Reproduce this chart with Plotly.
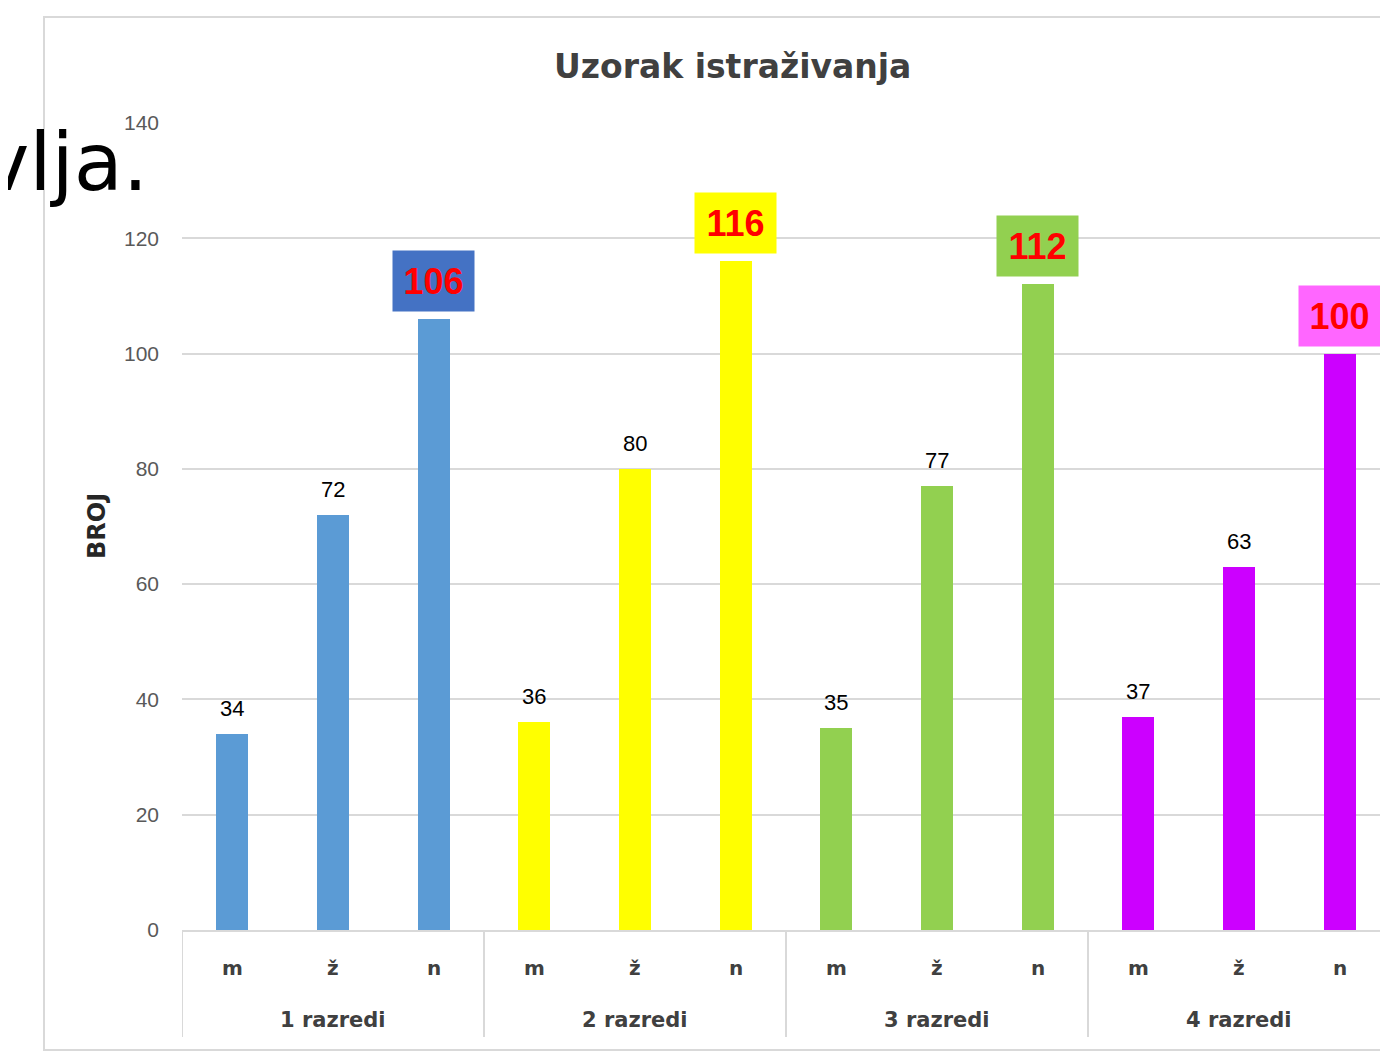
import plotly.graph_objects as go

groups = ["1 razredi", "2 razredi", "3 razredi", "4 razredi"]
subcats = ["m", "ž", "n"]
values = [
    [34, 72, 106],
    [36, 80, 116],
    [35, 77, 112],
    [37, 63, 100],
]
bar_colors = ["#5B9BD5", "#FFFF00", "#92D050", "#CC00FF"]
highlight_bg = ["#4472C4", "#FFFF00", "#92D050", "#FF66FF"]
y_ticks = [0, 20, 40, 60, 80, 100, 120, 140]
title_text = "Uzorak istraživanja"
y_title = "BROJ"

# page offset of the plot div (default body margin) is compensated here
OFF = 8
W, H = 1388 - OFF, 1052 - OFF
L, R, T, B = 182 - OFF, 0, 123 - OFF, 122
pw, ph = W - L - R, H - T - B

def px_to_paper_x(px):
    return (px - OFF - L) / pw

def px_to_paper_y(py):
    return (H - B - (py - OFF)) / ph

fig = go.Figure()
annotations = []
shapes = []

for gi, g in enumerate(groups):
    xs = [gi * 3 + k for k in range(3)]
    fig.add_trace(go.Bar(
        x=xs, y=values[gi], width=0.32,
        marker=dict(color=bar_colors[gi], line=dict(width=0)),
        name=g, showlegend=False, hoverinfo="skip",
    ))
    for k, (x, v) in enumerate(zip(xs, values[gi])):
        if k < 2:
            annotations.append(dict(
                x=x, y=v, xref="x", yref="y", text=str(v), showarrow=False,
                yanchor="bottom", yshift=11,
                font=dict(family="Liberation Sans", size=22, color="#000000"),
            ))
        else:
            annotations.append(dict(
                x=x, y=v, xref="x", yref="y", text="<b>%d</b>" % v, showarrow=False,
                yanchor="bottom", yshift=7, bgcolor=highlight_bg[gi],
                width=81, height=60, borderpad=0,
                font=dict(family="Liberation Sans", size=36, color="#FF0000"),
            ))
        annotations.append(dict(
            x=x, y=px_to_paper_y(968), xref="x", yref="paper", text="<b>%s</b>" % subcats[k],
            showarrow=False, yanchor="middle",
            font=dict(family="DejaVu Sans", size=20, color="#404040"),
        ))
    annotations.append(dict(
        x=gi * 3 + 1, y=px_to_paper_y(1020), xref="x", yref="paper", text="<b>%s</b>" % g,
        showarrow=False, yanchor="middle",
        font=dict(family="DejaVu Sans", size=21, color="#404040"),
    ))

# group dividers
for d in range(len(groups) + 1):
    xd = d * 3 - 0.5
    shapes.append(dict(type="line", xref="x", yref="paper", x0=xd, x1=xd,
                       y0=0, y1=px_to_paper_y(1037), line=dict(color="#D9D9D9", width=2)))

# chart border
shapes.append(dict(type="rect", xref="paper", yref="paper",
                   x0=px_to_paper_x(44), x1=px_to_paper_x(1400),
                   y0=px_to_paper_y(1050), y1=px_to_paper_y(17),
                   line=dict(color="#D9D9D9", width=2), fillcolor="rgba(0,0,0,0)", layer="below"))

# title
annotations.append(dict(
    x=px_to_paper_x(732), y=px_to_paper_y(66), xref="paper", yref="paper",
    text="<b>%s</b>" % title_text, showarrow=False, yanchor="middle", xanchor="center",
    font=dict(family="DejaVu Sans", size=33, color="#404040"),
))
# y axis title
annotations.append(dict(
    x=px_to_paper_x(97), y=px_to_paper_y(526), xref="paper", yref="paper", text="<b>%s</b>" % y_title,
    showarrow=False, textangle=-90, xanchor="center", yanchor="middle",
    font=dict(family="DejaVu Sans", size=24, color="#262626"),
))
# overlapping slide text fragment
annotations.append(dict(
    x=px_to_paper_x(150), y=px_to_paper_y(162), xref="paper", yref="paper", text="vlja.",
    showarrow=False, xanchor="right", yanchor="middle",
    font=dict(family="DejaVu Sans", size=80, color="#000000"),
))

fig.update_layout(
    width=W, height=H,
    margin=dict(l=L, r=R, t=T, b=B, pad=0),
    paper_bgcolor="white", plot_bgcolor="white",
    bargap=0, annotations=annotations, shapes=shapes,
    xaxis=dict(range=[-0.5, 11.48], showticklabels=False, showgrid=False, zeroline=False,
               showline=True, linecolor="#D9D9D9", linewidth=2, ticks=""),
    yaxis=dict(range=[0, 140], tickvals=y_ticks, showgrid=True, gridcolor="#D9D9D9", gridwidth=2,
               zeroline=False, showline=False, ticks="", ticklabelstandoff=22,
               tickfont=dict(family="Liberation Sans", size=21, color="#595959")),
)

fig.write_html("out.html")
